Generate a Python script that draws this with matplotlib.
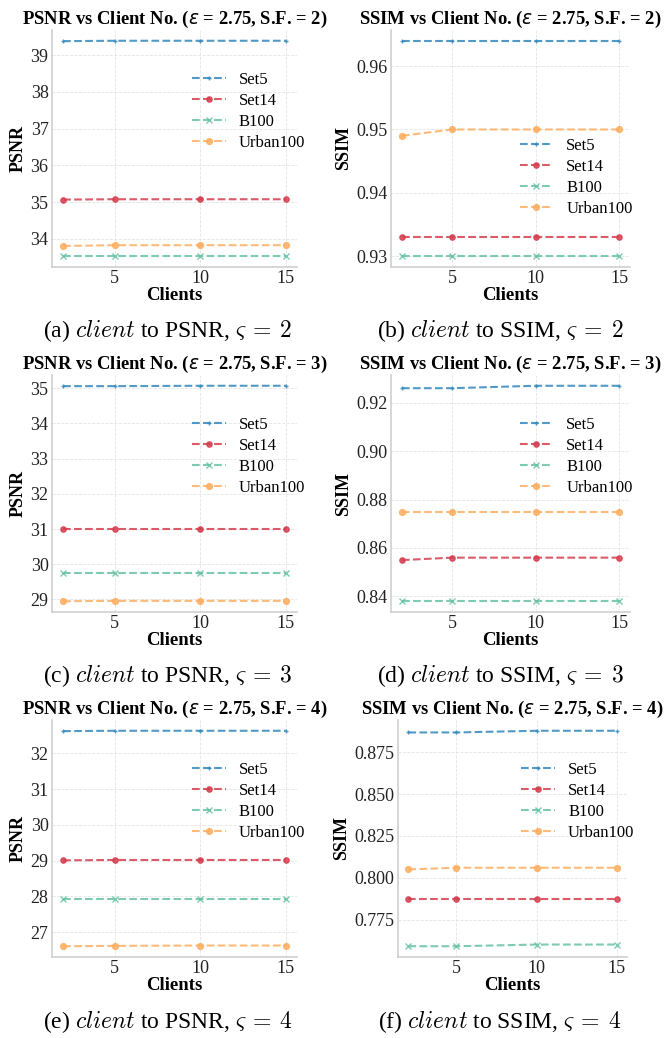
import matplotlib
matplotlib.use("Agg")
import matplotlib.pyplot as plt
from matplotlib.ticker import MultipleLocator, FormatStrFormatter

plt.rcParams["font.family"] = ["Liberation Serif", "DejaVu Serif"]
plt.rcParams["mathtext.fontset"] = "dejavusans"

clients = [2, 5, 10, 15]
datasets = ["Set5", "Set14", "B100", "Urban100"]

# PSNR / SSIM per scale factor, one list per dataset
psnr_sf2 = {"Set5": [39.38, 39.39, 39.39, 39.39], "Set14": [35.07, 35.08, 35.08, 35.08],
            "B100": [33.53, 33.53, 33.53, 33.53], "Urban100": [33.81, 33.83, 33.83, 33.83]}
ssim_sf2 = {"Set5": [0.964, 0.964, 0.964, 0.964], "Set14": [0.933, 0.933, 0.933, 0.933],
            "B100": [0.930, 0.930, 0.930, 0.930], "Urban100": [0.949, 0.950, 0.950, 0.950]}
psnr_sf3 = {"Set5": [35.06, 35.06, 35.07, 35.07], "Set14": [31.00, 31.00, 31.00, 31.00],
            "B100": [29.74, 29.74, 29.74, 29.74], "Urban100": [28.95, 28.96, 28.96, 28.96]}
ssim_sf3 = {"Set5": [0.926, 0.926, 0.927, 0.927], "Set14": [0.855, 0.856, 0.856, 0.856],
            "B100": [0.838, 0.838, 0.838, 0.838], "Urban100": [0.875, 0.875, 0.875, 0.875]}
psnr_sf4 = {"Set5": [32.62, 32.63, 32.63, 32.63], "Set14": [29.01, 29.02, 29.02, 29.02],
            "B100": [27.94, 27.94, 27.94, 27.94], "Urban100": [26.61, 26.62, 26.63, 26.63]}
ssim_sf4 = {"Set5": [0.887, 0.887, 0.888, 0.888], "Set14": [0.787, 0.787, 0.787, 0.787],
            "B100": [0.759, 0.759, 0.760, 0.760], "Urban100": [0.805, 0.806, 0.806, 0.806]}

colors = {"Set5": "#3288bd", "Set14": "#d53e4f", "B100": "#66c2a5", "Urban100": "#fdae61"}
markers = {"Set5": "+", "Set14": "o", "B100": "x", "Urban100": "o"}
msizes = {"Set5": 3, "Set14": 3.8, "B100": 4, "Urban100": 4.2}

W, H = 670, 1038
fig = plt.figure(figsize=(W / 100, H / 100), dpi=100)


def px_axes(left, right, top, bottom):
    return fig.add_axes([left / W, 1 - bottom / H, (right - left) / W, (bottom - top) / H])


panels = [
    # data, metric, sf, letter, box(l, r, t, b), tick step, fmt, legend anchor, caption (x, y)
    (psnr_sf2, "PSNR", 2, "a", (52, 297, 30, 267), 1, "%d", (0.545, 0.658), (168, 331)),
    (ssim_sf2, "SSIM", 2, "b", (391, 630, 30, 267), 0.01, "%.2f", (0.51, 0.378), (500, 331)),
    (psnr_sf3, "PSNR", 3, "c", (52, 297, 375, 612), 1, "%d", (0.545, 0.656), (168, 676)),
    (ssim_sf3, "SSIM", 3, "d", (391, 630, 375, 612), 0.02, "%.2f", (0.51, 0.658), (500, 676)),
    (psnr_sf4, "PSNR", 4, "e", (52, 297, 720, 957), 1, "%d", (0.545, 0.656), (168, 1022)),
    (ssim_sf4, "SSIM", 4, "f", (398, 627, 720, 957), 0.025, "%.3f", (0.51, 0.658), (500, 1022)),
]

for data, metric, sf, letter, box, step, fmt, anchor, cap in panels:
    ax = px_axes(*box)
    for name in datasets:
        ax.plot(clients, data[name], linestyle="--", linewidth=1.5, color=colors[name],
                marker=markers[name], markersize=msizes[name], markeredgewidth=1.0,
                alpha=0.85, label=name)
    ax.set_xticks([5, 10, 15])
    ax.yaxis.set_major_locator(MultipleLocator(step))
    ax.yaxis.set_major_formatter(FormatStrFormatter(fmt))
    ax.tick_params(axis="both", labelsize=13, length=0, pad=2.5, colors="#222222")
    ax.grid(True, linestyle="--", linewidth=0.6, color="#e4e4e4")
    ax.set_axisbelow(True)
    for side in ("top", "right"):
        ax.spines[side].set_visible(False)
    for side in ("left", "bottom"):
        ax.spines[side].set_color("#d0d0d0")
        ax.spines[side].set_linewidth(1.2)
    ax.set_xlabel("Clients", fontsize=13.5, fontweight="bold", labelpad=0)
    ax.set_ylabel(metric, fontsize=13, fontweight="bold", labelpad=3)
    ax.set_title(rf"{metric} vs Client No. ($\epsilon$ = 2.75, S.F. = {sf})",
                 fontsize=13.4, fontweight="bold", pad=4)
    ax.legend(loc="center left", bbox_to_anchor=anchor, frameon=False, fontsize=12,
              labelspacing=0.3, handlelength=2.0, handletextpad=0.8, borderaxespad=0)
    fig.text(cap[0] / W, 1 - cap[1] / H,
             rf"({letter}) $client$ to {metric}, $\varsigma\:=\:{sf}$",
             ha="center", va="center", fontsize=17, math_fontfamily="cm")

fig.savefig("out.png", dpi=100)
